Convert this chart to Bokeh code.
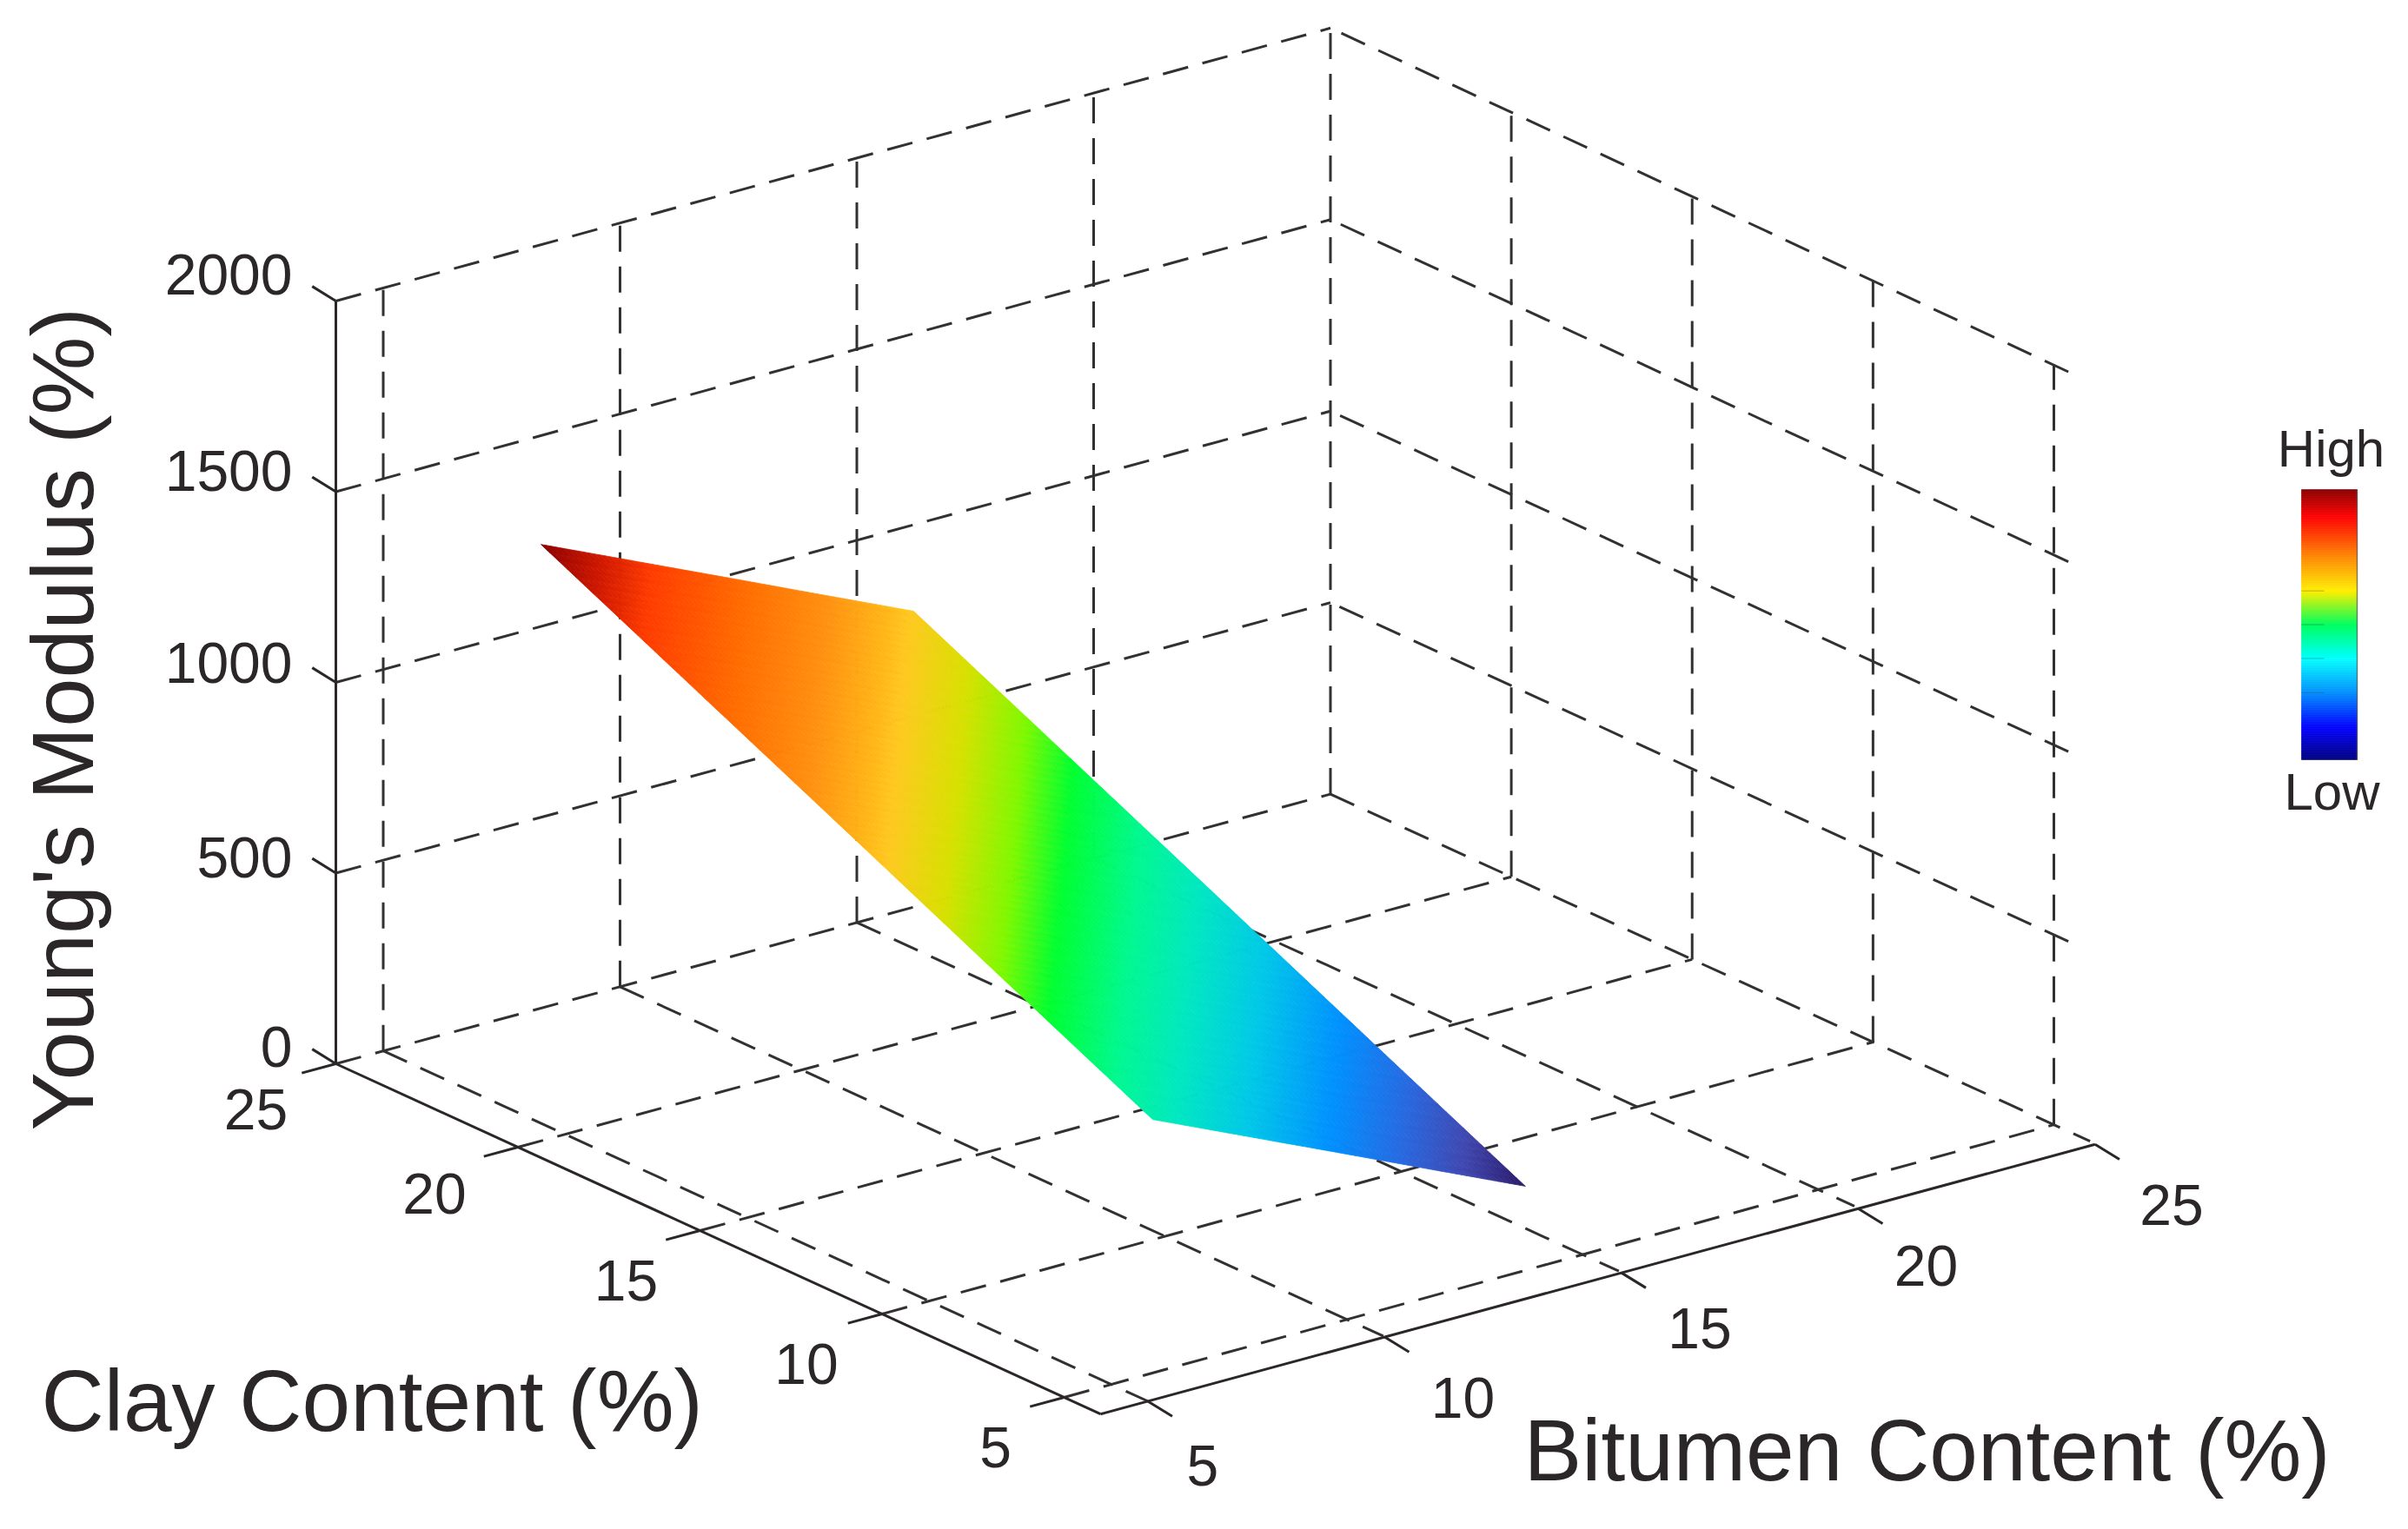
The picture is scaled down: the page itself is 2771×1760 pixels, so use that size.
from bokeh.plotting import figure
from bokeh.core.properties import value
from bokeh.embed import file_html
from bokeh.resources import INLINE

# ---------- data ----------
bitumen_ticks = [5, 10, 15, 20, 25]
clay_ticks = [5, 10, 15, 20, 25]
modulus_ticks = [0, 500, 1000, 1500, 2000]
bitumen_range = [4, 25]
clay_range = [4, 25]
modulus_range = [0, 2000]
wall_clay_end = 4.6

surface_bitumen = [8.33, 10.30, 12.27, 14.23, 16.20]
surface_clay = [25.0, 20.8, 16.6, 12.4, 8.2]
surface_modulus = [
    [1216, 1106, 996, 886, 776],
    [1023, 913, 803, 693, 583],
    [830, 720, 610, 500, 390],
    [636, 526, 416, 306, 196],
    [443, 333, 223, 113, 3],
]

surface_stops = [0, .06, .12, .19, .27, .34, .40, .47, .52, .58, .64, .66, .72, .80, .89, .94, 1]
surface_colors = ["#2a1a6a", "#4048b0", "#2868e0", "#0090ff", "#00c8e8", "#00e8c0", "#00f890",
                  "#00ff30", "#80f800", "#d8e000", "#ffc820", "#ffb818", "#ff9010", "#ff6c00",
                  "#ff3c00", "#d01800", "#8a0000"]
bar_stops = [0, .12, .25, .375, .5, .625, .76, .9, 1]
bar_colors = ["#000080", "#0000ff", "#0090ff", "#00ffff", "#00ff60", "#ffee00", "#ff8000", "#ff0000", "#8b0000"]
bar_marks = [.248, .375, .5, .625]

title_bitumen = "Bitumen Content (%)"
title_clay = "Clay Content (%)"
title_modulus = "Young's Modulus (%)"
bar_high = "High"
bar_low = "Low"

# ---------- projection (read from the box corners) ----------
ORIGIN = (386.0, 1224.0)
PER_BITUMEN = (54.5, -14.78)
PER_CLAY = (-41.9, -19.2)
PER_MODULUS = (0.0, -0.439)
B0, C0 = bitumen_range[0], clay_range[1]


def project(b, c, z):
    x = ORIGIN[0] + (b - B0) * PER_BITUMEN[0] + (c - C0) * PER_CLAY[0] + z * PER_MODULUS[0]
    y = ORIGIN[1] + (b - B0) * PER_BITUMEN[1] + (c - C0) * PER_CLAY[1] + z * PER_MODULUS[1]
    return x, y


def project_grid(b, c, z):
    # the reference's dashed box has a slight perspective towards its right-hand corner
    x, y = project(b, c, 0)
    skew = (b - B0) * (C0 - c)
    x -= 0.0131 * skew
    y -= 0.0083 * skew
    scale = 0.439 + 0.0019 * (b - B0) / 21 - 0.0037 * (C0 - c) / 20
    return x, y - z * scale


def seg(p0, p1, proj=project):
    a, b = proj(*p0), proj(*p1)
    return [a[0], b[0]], [a[1], b[1]]


def ramp(t, stops, colors):
    t = max(0.0, min(1.0, t))
    for i in range(len(stops) - 1):
        if t <= stops[i + 1]:
            f = (t - stops[i]) / (stops[i + 1] - stops[i])
            a, b = colors[i], colors[i + 1]
            rgb = [round(int(a[k:k + 2], 16) * (1 - f) + int(b[k:k + 2], 16) * f) for k in (1, 3, 5)]
            return "#%02x%02x%02x" % tuple(rgb)
    return colors[-1]


INK = "#2b2627"
FONT = value("Liberation Sans")
p = figure(width=2755, height=1744, x_range=(0, 2755), y_range=(1744, 0),
           output_backend="svg", toolbar_location=None, min_border=0,
           x_axis_location=None, y_axis_location=None, outline_line_color=None)
p.grid.visible = False
p.background_fill_color = "white"
p.border_fill_color = "white"

bmin, bmax = bitumen_range
cmin, cmax = clay_range
zmin, zmax = modulus_range

# ---------- dashed grid ----------
gx, gy = [], []


def grid_line(p0, p1):
    a, b = seg(p0, p1, project_grid)
    gx.append(a); gy.append(b)


for c in clay_ticks:
    grid_line((bmin, c, 0), (bmax, c, 0))
for b_ in bitumen_ticks:
    grid_line((b_, cmax, 0), (b_, cmin, 0))
for z in modulus_ticks[1:]:
    grid_line((bmin, cmax, z), (bmax, cmax, z))
    grid_line((bmax, wall_clay_end, z), (bmax, cmax, z))
for b_ in bitumen_ticks:
    grid_line((b_, cmax, zmin), (b_, cmax, zmax))
for c in clay_ticks[:-1]:
    grid_line((bmax, c, zmin), (bmax, c, zmax))
p.multi_line(gx, gy, line_color="#333031", line_width=3, line_dash="30 17")

# ---------- solid axes and ticks ----------
ax, ay = [], []
for s in [((bmin, cmax, zmin), (bmin, cmax, zmax)),
          ((bmin, cmax, 0), (bmin, cmin, 0)),
          ((bmin, cmin, 0), (bmax, cmin, 0))]:
    a, b = seg(*s); ax.append(a); ay.append(b)
for z in modulus_ticks:
    a, b = seg((bmin, cmax, z), (bmin, cmax + 0.65, z + 10)); ax.append(a); ay.append(b)
for c in clay_ticks:
    a, b = seg((bmin, c, 0), (bmin - 0.72, c, 0)); ax.append(a); ay.append(b)
for b_ in bitumen_ticks:
    a, b = seg((b_, cmin, 0), (b_, cmin - 0.67, -10)); ax.append(a); ay.append(b)
p.multi_line(ax, ay, line_color=INK, line_width=3)

# ---------- surface ----------
N = 70
nb, nc = len(surface_bitumen) - 1, len(surface_clay) - 1


def surf(u, v):
    i = min(int(u * nb), nb - 1); j = min(int(v * nc), nc - 1)
    fu, fv = u * nb - i, v * nc - j
    b_ = surface_bitumen[i] * (1 - fu) + surface_bitumen[i + 1] * fu
    c_ = surface_clay[j] * (1 - fv) + surface_clay[j + 1] * fv
    m = surface_modulus
    z = (m[j][i] * (1 - fu) + m[j][i + 1] * fu) * (1 - fv) + (m[j + 1][i] * (1 - fu) + m[j + 1][i + 1] * fu) * fv
    return b_, c_, z


zlo = min(map(min, surface_modulus)); zhi = max(map(max, surface_modulus))
xs, ys, cols = [], [], []
for i in range(N):
    for j in range(N):
        corners = [surf(i / N, j / N), surf((i + 1) / N, j / N), surf((i + 1) / N, (j + 1) / N), surf(i / N, (j + 1) / N)]
        pts = [project(*k) for k in corners]
        xs.append([q[0] for q in pts]); ys.append([q[1] for q in pts])
        zc = sum(k[2] for k in corners) / 4
        cols.append(ramp((zc - zlo) / (zhi - zlo), surface_stops, surface_colors))
p.patches(xs, ys, fill_color=cols, line_color=cols, line_width=0.8)

# ---------- tick labels ----------
def labels(xs_, ys_, txt, size="66px", align="center"):
    p.text(xs_, ys_, text=txt, text_font=FONT, text_font_size=size, text_color=INK,
           text_align=align, text_baseline="middle")


Z_DY = [-20, -18, -23, -24, -31]
CLAY_DX = [6, -2, 0, -11, -7]
CLAY_DY = [0, 0, 0, -4, -5]
BIT_DX = [-21, 6, 6, -6, 4]
BIT_DY = [4, 0, -6, -4, 0]
pts = [project(bmin, cmax, z) for z in modulus_ticks]
labels([q[0] - 50 for q in pts], [q[1] + n for q, n in zip(pts, Z_DY)], [str(z) for z in modulus_ticks], align="right")
pts = [project(bmin, c, 0) for c in clay_ticks]
labels([q[0] - 85 + d for q, d in zip(pts, CLAY_DX)], [q[1] + 57 + d for q, d in zip(pts, CLAY_DY)], [str(c) for c in clay_ticks])
pts = [project(b_, cmin, 0) for b_ in bitumen_ticks]
labels([q[0] + 84 + d for q, d in zip(pts, BIT_DX)], [q[1] + 70 + d for q, d in zip(pts, BIT_DY)], [str(b_) for b_ in bitumen_ticks])

# ---------- titles ----------
def title(x, y, txt, size="100px", angle=0.0, align="left"):
    p.text([x], [y], text=[txt], text_font=FONT, text_font_size=size, text_color=INK,
           text_align=align, text_baseline="alphabetic", angle=angle)


title(47, 1611, title_clay)
title(1753, 1668, title_bitumen)
title(71, 1301, title_modulus, size="101px", angle=1.5707963)
title(2682, 516, bar_high, size="60px", align="center")
title(2683, 911, bar_low, size="60px", align="center")

# ---------- colour bar ----------
BAR_L, BAR_R, BAR_T, BAR_B = 2648, 2712, 563, 874
K = 156
p.quad(left=[BAR_L] * K, right=[BAR_R] * K,
       top=[BAR_B - (BAR_B - BAR_T) * (i + 1) / K for i in range(K)],
       bottom=[BAR_B - (BAR_B - BAR_T) * i / K for i in range(K)],
       fill_color=[ramp((i + .5) / K, bar_stops, bar_colors) for i in range(K)],
       line_color=[ramp((i + .5) / K, bar_stops, bar_colors) for i in range(K)], line_width=0.6)
p.line([BAR_R, BAR_R], [BAR_T, BAR_B], line_color="#555555", line_width=1.5, line_alpha=0.7)
p.multi_line([[BAR_L, BAR_L + 26] for _ in bar_marks],
             [[BAR_B - (BAR_B - BAR_T) * t] * 2 for t in bar_marks],
             line_color="#333333", line_width=1, line_alpha=0.35)

open("out.html", "w").write(file_html(p, INLINE))
